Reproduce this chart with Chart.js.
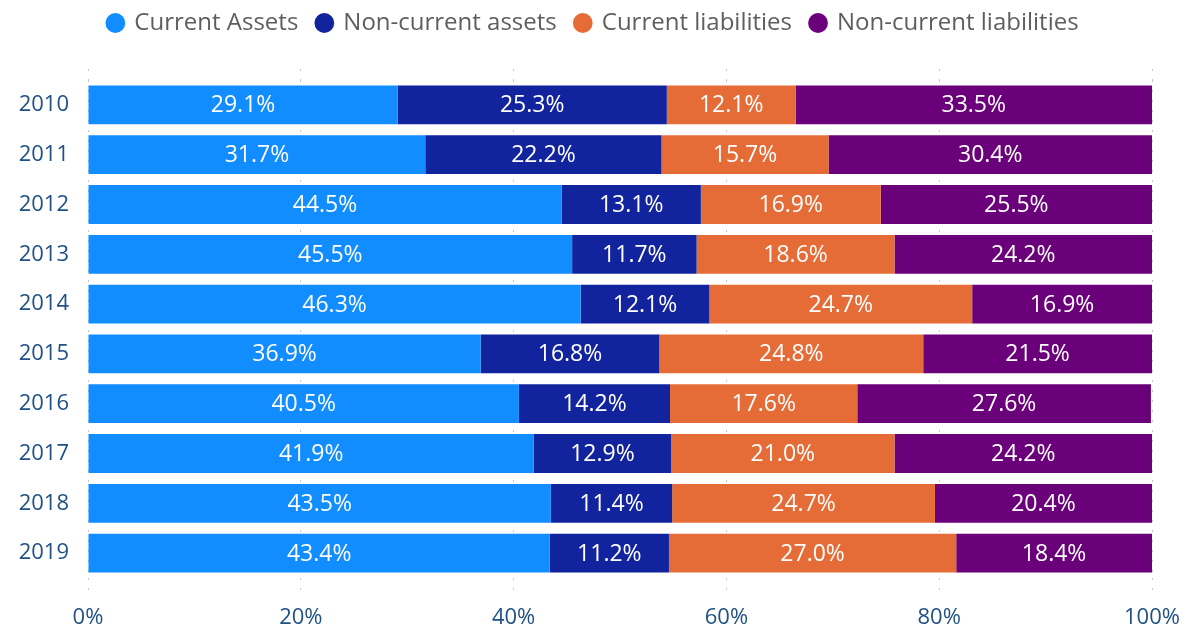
<!DOCTYPE html>
<html>
<head>
<meta charset="utf-8">
<script src="https://cdn.jsdelivr.net/npm/chart.js@4.4.1/dist/chart.umd.min.js"></script>
<style>
  html, body { margin: 0; padding: 0; background: #ffffff; }
  #wrap { width: 1187px; height: 626px; position: relative; }
</style>
</head>
<body>
<div id="wrap"><canvas id="balanceChart"></canvas></div>
<script>
// values (share of total, %)
const years = ["2010", "2011", "2012", "2013", "2014", "2015", "2016", "2017", "2018", "2019"];
const currentAssets = [29.1, 31.7, 44.5, 45.5, 46.3, 36.9, 40.5, 41.9, 43.5, 43.4];
const nonCurrentAssets = [25.3, 22.2, 13.1, 11.7, 12.1, 16.8, 14.2, 12.9, 11.4, 11.2];
const currentLiabilities = [12.1, 15.7, 16.9, 18.6, 24.7, 24.8, 17.6, 21.0, 24.7, 27.0];
const nonCurrentLiabilities = [33.5, 30.4, 25.5, 24.2, 16.9, 21.5, 27.6, 24.2, 20.4, 18.4];
const xTicks = [0, 20, 40, 60, 80, 100];

const FONT = "'Segoe UI', 'Open Sans', sans-serif";
const AXIS_COLOR = "#1f5086";
const GRID_COLOR = "#c6c6c6";

// white percentage labels in the middle of each segment
const segmentLabels = {
    id: "segmentLabels",
    afterDatasetsDraw(chart) {
        const ctx = chart.ctx;
        ctx.save();
        ctx.font = "23px " + FONT;
        ctx.fillStyle = "#ffffff";
        ctx.textAlign = "center";
        ctx.textBaseline = "middle";
        chart.data.datasets.forEach((ds, i) => {
            const meta = chart.getDatasetMeta(i);
            if (meta.hidden) return;
            meta.data.forEach((bar, j) => {
                const cx = (bar.x + bar.base) / 2;
                ctx.fillText(ds.data[j].toFixed(1) + "%", cx, bar.y + 1);
            });
        });
        ctx.restore();
    },
};

function makeDataset(label, data, color) {
    return {
        label: label,
        data: data,
        backgroundColor: color,
        borderWidth: 0,
        barPercentage: 0.78,
        categoryPercentage: 1,
    };
}

const ctx = document.getElementById("balanceChart").getContext("2d");
const balanceChart = new Chart(ctx, {
    type: "bar",
    data: {
        labels: years,
        datasets: [
            makeDataset("Current Assets", currentAssets, "#118dff"),
            makeDataset("Non-current assets", nonCurrentAssets, "#12239e"),
            makeDataset("Current liabilities", currentLiabilities, "#e66c37"),
            makeDataset("Non-current liabilities", nonCurrentLiabilities, "#6b007b"),
        ],
    },
    options: {
        indexAxis: "y",
        responsive: true,
        maintainAspectRatio: false,
        animation: false,
        layout: {
            padding: { top: -8, right: 0, bottom: 0, left: 0 },
        },
        plugins: {
            tooltip: { enabled: false },
            legend: {
                position: "top",
                align: "center",
                labels: {
                    usePointStyle: true,
                    pointStyle: "circle",
                    boxWidth: 14,
                    boxHeight: 14,
                    padding: 19,
                    color: "#605e5c",
                    font: { family: FONT, size: 24 },
                },
            },
        },
        scales: {
            x: {
                type: "linear",
                stacked: true,
                min: 0,
                max: 100,
                afterBuildTicks(scale) {
                    scale.ticks = xTicks.map((v) => ({ value: v }));
                },
                afterFit(scale) {
                    scale.height = 48;
                    scale.paddingRight = 35;
                },
                border: { display: false, dash: [2, 8] },
                grid: {
                    color: GRID_COLOR,
                    lineWidth: 1,
                    drawTicks: true,
                    tickLength: 15,
                    tickColor: GRID_COLOR,
                    tickBorderDash: [2, 8],
                },
                ticks: {
                    color: AXIS_COLOR,
                    padding: 12,
                    maxRotation: 0,
                    font: { family: FONT, size: 22 },
                    callback: (v) => v + "%",
                },
            },
            xTop: {
                type: "linear",
                position: "top",
                min: 0,
                max: 100,
                afterBuildTicks(scale) {
                    scale.ticks = xTicks.map((v) => ({ value: v }));
                },
                afterFit(scale) {
                    scale.height = 35;
                },
                border: { display: false },
                grid: {
                    drawOnChartArea: false,
                    drawTicks: true,
                    tickLength: 11,
                    tickColor: GRID_COLOR,
                    tickBorderDash: [2, 8],
                },
                ticks: { display: false },
            },
            y: {
                type: "category",
                stacked: true,
                afterFit(scale) {
                    scale.width = 88;
                },
                border: { display: false },
                grid: { display: false, drawTicks: false },
                ticks: {
                    color: AXIS_COLOR,
                    padding: 19,
                    font: { family: FONT, size: 22 },
                },
            },
        },
    },
    plugins: [segmentLabels],
});
</script>
</body>
</html>
